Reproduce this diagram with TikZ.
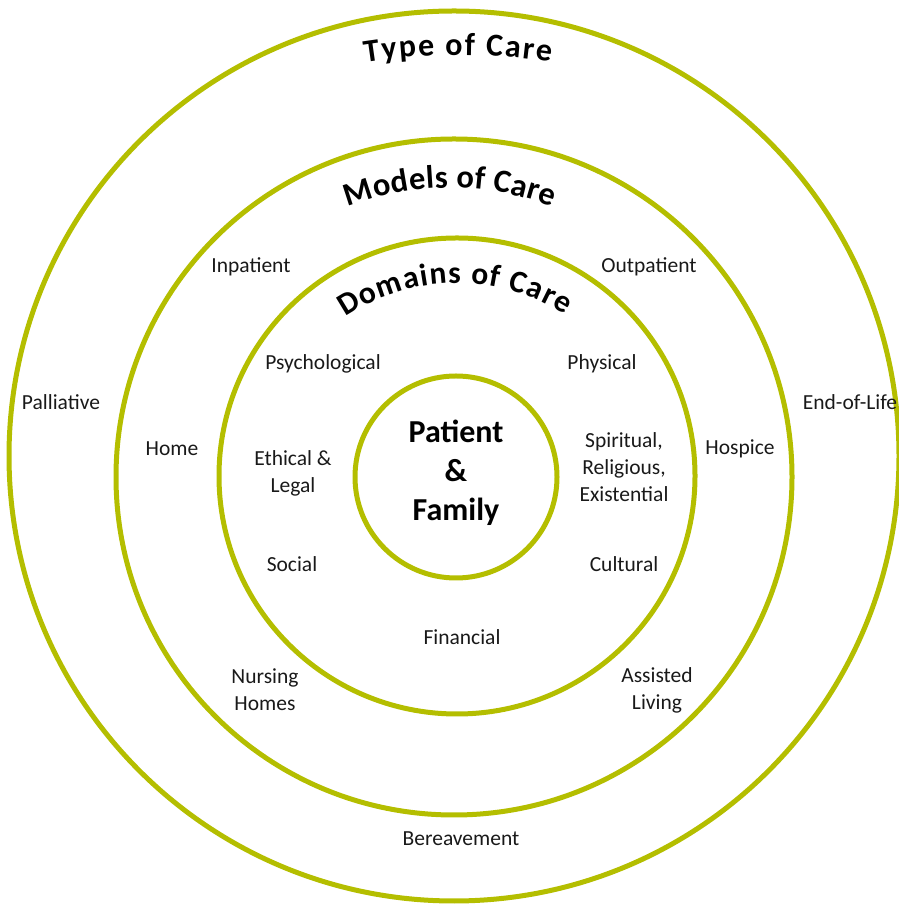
\documentclass[tikz,border=0pt]{standalone}
\usepackage{fontspec}
\setmainfont{Carlito}
\usetikzlibrary{decorations.text}
\definecolor{ringgreen}{RGB}{180,190,0}

\tikzset{
  ring/.style={draw=ringgreen, line width=5pt},
  lbl/.style={font=\fontsize{21.5}{27}\selectfont, align=center, text=black!90},
  centre/.style={font=\bfseries\fontsize{32}{39}\selectfont, align=center}
}

\begin{document}
\begin{tikzpicture}[x=1pt,y=1pt]
  \useasboundingbox (0,0) rectangle (898,904);
  % rings
  \draw[ring] (454,448) circle[radius=445];
  \draw[ring] (454,427) circle[radius=338];
  \draw[ring] (457,428) circle[radius=238];
  \draw[ring] (456,427) circle[radius=101];
  % ring titles
  \path[decorate, decoration={text along path, text align={fit to path},
      text={|\bfseries\fontsize{32}{32}\selectfont|Type  of  Care}}]
    ([shift={(98.9:600)}]458,249) arc[start angle=98.9, end angle=81.1, radius=600];
  \path[decorate, decoration={text along path, text align={fit to path},
      text={|\bfseries\fontsize{32.5}{32}\selectfont|Models of Care}}]
    ([shift={(110.7:289)}]450,427) arc[start angle=110.7, end angle=69.3, radius=289];
  \path[decorate, decoration={text along path, text align={fit to path},
      text={|\bfseries\fontsize{31.5}{32}\selectfont|Domains of Care}}]
    ([shift={(124:200)}]457,421) arc[start angle=124, end angle=57.3, radius=200];
  % type of care
  \node[lbl] (palliative) at (61,502) {Palliative};
  \node[lbl] (endoflife) at (850,502) {End-of-Life};
  \node[lbl] (bereavement) at (461,65) {Bereavement};
  % models of care
  \node[lbl] (inpatient) at (251,637) {Inpatient};
  \node[lbl] (outpatient) at (649,637) {Outpatient};
  \node[lbl] (home) at (172,455) {Home};
  \node[lbl] (hospice) at (740,455) {Hospice};
  \node[lbl] (nursing) at (265,214) {Nursing\\Homes};
  \node[lbl] (assisted) at (657,214) {Assisted\\Living};
  % domains of care
  \node[lbl] (psych) at (323,540) {Psychological};
  \node[lbl] (physical) at (602,540) {Physical};
  \node[lbl] (ethical) at (293,431) {Ethical \&\\Legal};
  \node[lbl] (spiritual) at (624,437) {Spiritual,\\Religious,\\Existential};
  \node[lbl] (social) at (292,340) {Social};
  \node[lbl] (cultural) at (624,340) {Cultural};
  \node[lbl] (financial) at (462,267) {Financial};
  % centre
  \node[centre] (patient) at (456,431) {Patient\\\&\\Family};
\end{tikzpicture}
\end{document}
